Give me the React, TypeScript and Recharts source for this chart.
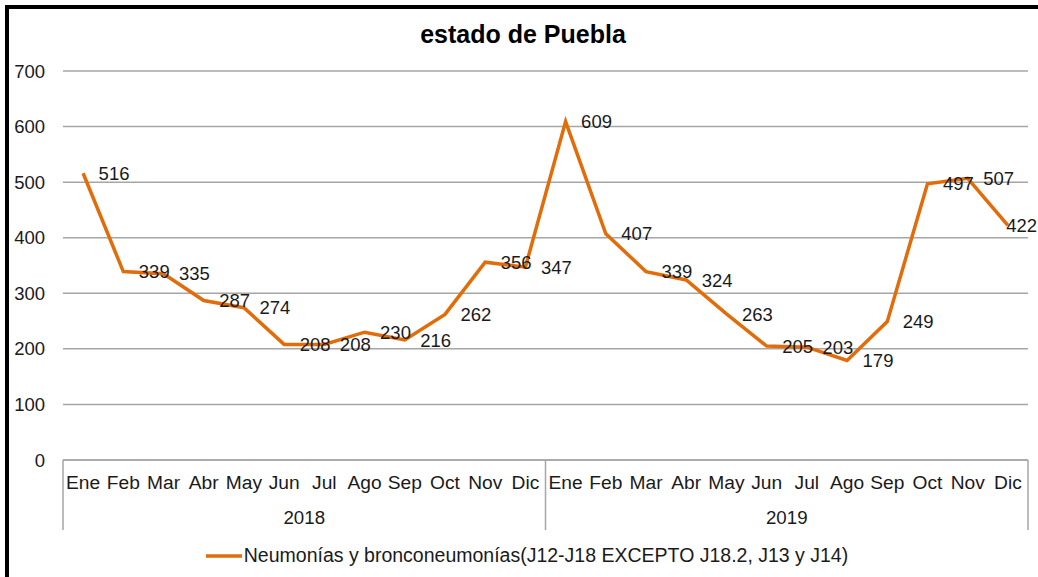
import { LineChart, Line, XAxis, YAxis, CartesianGrid, Legend, LabelList } from 'recharts';

const months = ['Ene', 'Feb', 'Mar', 'Abr', 'May', 'Jun', 'Jul', 'Ago', 'Sep', 'Oct', 'Nov', 'Dic'];
const years = ['2018', '2019'];
const values2018 = [516, 339, 335, 287, 274, 208, 208, 230, 216, 262, 356, 347];
const values2019 = [609, 407, 339, 324, 263, 205, 203, 179, 249, 497, 507, 422];
const yTicks = [0, 100, 200, 300, 400, 500, 600, 700];
const seriesName = 'Neumonías y bronconeumonías(J12-J18 EXCEPTO J18.2, J13 y J14)';

const valuesByYear = [values2018, values2019];
const data = years.flatMap((year, yi) =>
  months.map((month, mi) => ({ key: `${month} ${year}`, month, year, value: valuesByYear[yi][mi] }))
);

const FONT = '"Liberation Sans", Arial, sans-serif';
const ORANGE = '#E36C0A';
const GRID = '#A6A6A6';
const TEXT = '#1a1a1a';
const W = 1038;
const H = 577;
const M_LEFT = 63;
const M_RIGHT = 10;
const PLOT_W = W - M_LEFT - M_RIGHT;
const BAND = PLOT_W / data.length;
const YEAR_BAND = PLOT_W / years.length;

// month label + the group separator lines of the two-level axis
const MonthTick = (props: any) => {
  const { x, y, payload, index } = props;
  const left = x - BAND / 2;
  const right = x + BAND / 2;
  return (
    <g>
      {index % months.length === 0 && (
        <line x1={left} y1={y} x2={left} y2={y + 70} stroke={GRID} strokeWidth={1.5} />
      )}
      {index === data.length - 1 && (
        <line x1={right} y1={y} x2={right} y2={y + 70} stroke={GRID} strokeWidth={1.5} />
      )}
      <text x={x} y={y + 29} textAnchor="middle" fontSize={19.2} fill={TEXT} fontFamily={FONT}>
        {String(payload.value).split(' ')[0]}
      </text>
    </g>
  );
};

const YearTick = (props: any) => {
  const { x, y, payload } = props;
  return (
    <text x={x} y={y + 29} textAnchor="middle" fontSize={18.7} fill={TEXT} fontFamily={FONT}>
      {payload.value}
    </text>
  );
};

// value label right of the point, pushed back inside the chart if it would overflow
const ValueLabel = (props: any) => {
  const { x, y, value } = props;
  const textW = String(value).length * 0.556 * 18.5;
  const lx = Math.min(x + 15.5, W - 1 - textW);
  return (
    <text x={lx} y={y} dy="0.36em" fontSize={18.5} fill={TEXT} fontFamily={FONT}>
      {value}
    </text>
  );
};

const LegendContent = () => (
  <div
    style={{
      display: 'flex',
      alignItems: 'center',
      justifyContent: 'center',
      fontFamily: FONT,
      fontSize: 19.5,
      color: TEXT,
    }}
  >
    <svg width={38} height={8}>
      <line x1={0} y1={4} x2={36} y2={4} stroke={ORANGE} strokeWidth={3.5} />
    </svg>
    <span>{seriesName}</span>
  </div>
);

export default function App() {
  return (
    <div
      style={{
        position: 'absolute',
        left: 0,
        top: 0,
        width: W,
        height: H,
        overflow: 'hidden',
        background: '#fff',
      }}
    >
      <div
        style={{
          position: 'absolute',
          left: 5,
          top: 5,
          width: W + 100,
          height: H + 100,
          border: '4px solid #000',
        }}
      />
      <div
        style={{
          position: 'absolute',
          left: 0,
          top: 20,
          width: W,
          textAlign: 'center',
          fontFamily: FONT,
          fontWeight: 'bold',
          fontSize: 25,
          color: '#000',
          paddingLeft: 8,
          boxSizing: 'border-box',
        }}
      >
        estado de Puebla
      </div>
      <div style={{ position: 'absolute', left: 0, top: 0 }}>
        <LineChart width={W} height={H} data={data} margin={{ top: 71, right: M_RIGHT, left: 0, bottom: 47 }}>
          <CartesianGrid vertical={false} stroke={GRID} strokeWidth={1.5} />
          <XAxis
            dataKey="key"
            padding={{ left: BAND / 2, right: BAND / 2 }}
            height={35}
            interval={0}
            tickLine={false}
            tickSize={0}
            tickMargin={0}
            axisLine={{ stroke: GRID, strokeWidth: 1.5 }}
            tick={<MonthTick />}
          />
          <XAxis
            xAxisId="year"
            dataKey="year"
            allowDuplicatedCategory={false}
            padding={{ left: YEAR_BAND / 2, right: YEAR_BAND / 2 }}
            height={35}
            interval={0}
            axisLine={false}
            tickLine={false}
            tickSize={0}
            tickMargin={0}
            tick={<YearTick />}
          />
          <YAxis
            width={M_LEFT}
            domain={[0, 700]}
            ticks={yTicks}
            axisLine={false}
            tickLine={false}
            tickSize={6}
            tickMargin={12}
            tick={{ fontSize: 18.5, fill: TEXT, fontFamily: FONT }}
          />
          <Legend
            verticalAlign="middle"
            align="center"
            wrapperStyle={{ top: 544, left: 8, width: W }}
            content={<LegendContent />}
          />
          <Line
            type="linear"
            dataKey="value"
            name={seriesName}
            stroke={ORANGE}
            strokeWidth={3.5}
            dot={false}
            activeDot={false}
            isAnimationActive={false}
          >
            <LabelList dataKey="value" content={<ValueLabel />} />
          </Line>
        </LineChart>
      </div>
    </div>
  );
}
